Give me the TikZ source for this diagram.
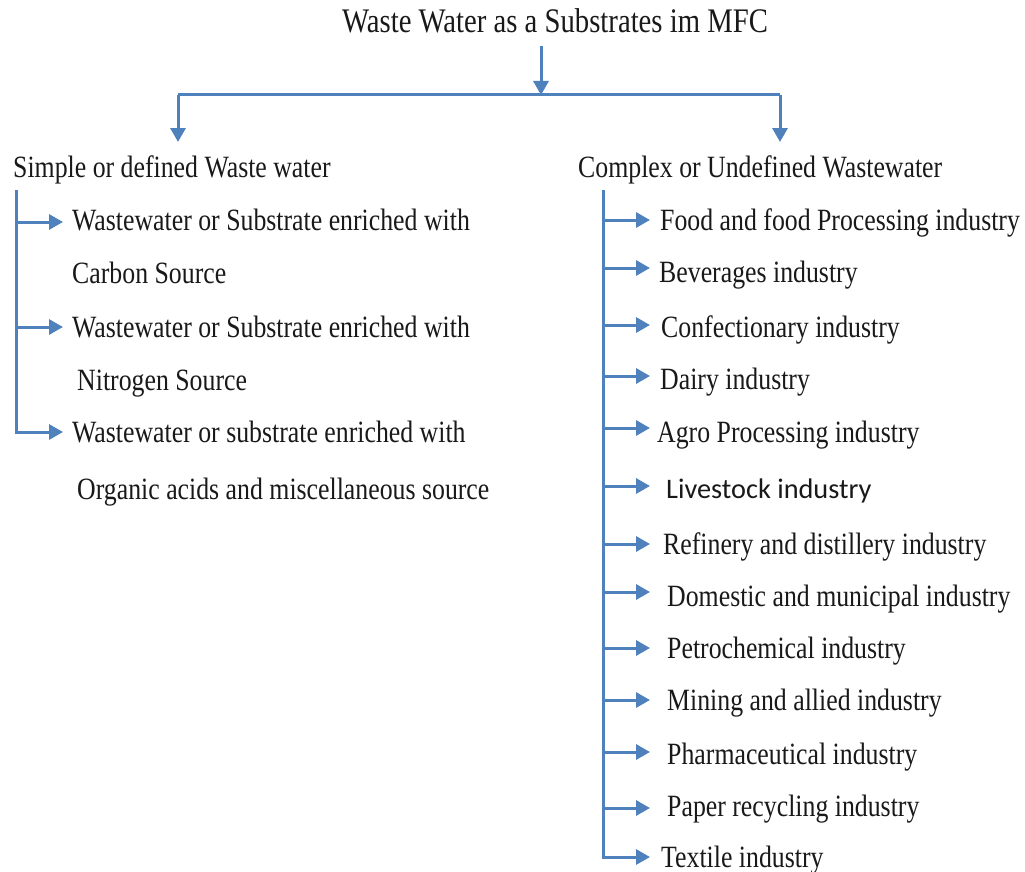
\documentclass[tikz,border=0pt]{standalone}
\usepackage{fontspec}
\usepackage{graphicx}
\setmainfont{Liberation Serif}
\newfontfamily\carlito{Carlito}
\usetikzlibrary{arrows.meta}
\definecolor{linkblue}{HTML}{4F81BD}
\newcommand{\vstretch}[1]{\scalebox{1}[1.2]{#1}}
\begin{document}
\begin{tikzpicture}[x=1pt,y=-1pt,
  conn/.style={draw=linkblue,line width=3pt},
  arr/.style={conn,-{Triangle[length=14pt,width=15pt]}},
  txt/.style={anchor=base west,inner sep=0pt,font=\fontsize{25.8}{30}\selectfont,text=black!90}]
\useasboundingbox[fill=white] (0,0) rectangle (1025,872);

% title
\node[txt,anchor=base,font=\fontsize{28.7}{32}\selectfont] (title) at (555,33) {\vstretch{Waste Water as a Substrates im MFC}};
\coordinate (j) at (541,95);
\coordinate (jl) at (178,95);
\coordinate (jr) at (780,95);
\draw[arr,shorten <=12pt] (j |- title.south) -- (j);
\draw[conn] (jl) -- (jr);

% headings
\node[txt] (lh) at (13,177) {\vstretch{Simple or defined Waste water}};
\node[txt] (rh) at (578,177) {\vstretch{Complex or Undefined Wastewater}};
\draw[arr,shorten >=13pt] (jl) -- (jl |- lh.north);
\draw[arr,shorten >=13pt] (jr) -- (jr |- rh.north);

% left branch
\node[txt] (l1) at (72,230) {\vstretch{Wastewater or Substrate enriched with}};
\node[txt] (l2) at (72,283) {\vstretch{Carbon Source}};
\node[txt] (l3) at (72,337) {\vstretch{Wastewater or Substrate enriched with}};
\node[txt] (l4) at (77,390) {\vstretch{Nitrogen Source}};
\node[txt] (l5) at (72,442) {\vstretch{Wastewater or substrate enriched with}};
\node[txt] (l6) at (77,499) {\vstretch{Organic acids and miscellaneous source}};
\coordinate (lt) at (16,190);
\coordinate (la1) at (16,222);
\coordinate (la2) at (16,327);
\coordinate (lb) at (16,432);
\draw[arr] (lt) -- (lb) -- ([xshift=-9pt]l5.west |- lb);
\draw[arr] (la1) -- ([xshift=-9pt]l1.west |- la1);
\draw[arr] (la2) -- ([xshift=-9pt]l3.west |- la2);

% right branch
\node[txt] (r1) at (660,230) {\vstretch{Food and food Processing industry}};
\node[txt] (r2) at (659,282) {\vstretch{Beverages industry}};
\node[txt] (r3) at (661,337) {\vstretch{Confectionary industry}};
\node[txt] (r4) at (660,389) {\vstretch{Dairy industry}};
\node[txt] (r5) at (657,442) {\vstretch{Agro Processing industry}};
\node[txt,font=\carlito\fontsize{28.3}{32}\selectfont] (r6) at (666,498) {Livestock industry};
\node[txt] (r7) at (663,554) {\vstretch{Refinery and distillery industry}};
\node[txt] (r8) at (667,606) {\vstretch{Domestic and municipal industry}};
\node[txt] (r9) at (667,658) {\vstretch{Petrochemical industry}};
\node[txt] (r10) at (667,710) {\vstretch{Mining and allied industry}};
\node[txt] (r11) at (667,764) {\vstretch{Pharmaceutical industry}};
\node[txt] (r12) at (667,816) {\vstretch{Paper recycling industry}};
\node[txt] (r13) at (661,867) {\vstretch{Textile industry}};

\coordinate (rt) at (603,190);
\coordinate (tipcol) at (650,0);
\coordinate (ra1) at (603,220);
\coordinate (ra2) at (603,268);
\coordinate (ra3) at (603,325);
\coordinate (ra4) at (603,376);
\coordinate (ra5) at (603,428);
\coordinate (ra6) at (603,486);
\coordinate (ra7) at (603,544);
\coordinate (ra8) at (603,592);
\coordinate (ra9) at (603,648);
\coordinate (ra10) at (603,700);
\coordinate (ra11) at (603,752);
\coordinate (ra12) at (603,808);
\coordinate (rb) at (603,857);
\draw[arr] (rt) -- (rb) -- (rb -| tipcol);
\foreach \i in {1,...,12} {
  \draw[arr] (ra\i) -- (ra\i -| tipcol);
}
\end{tikzpicture}
\end{document}
